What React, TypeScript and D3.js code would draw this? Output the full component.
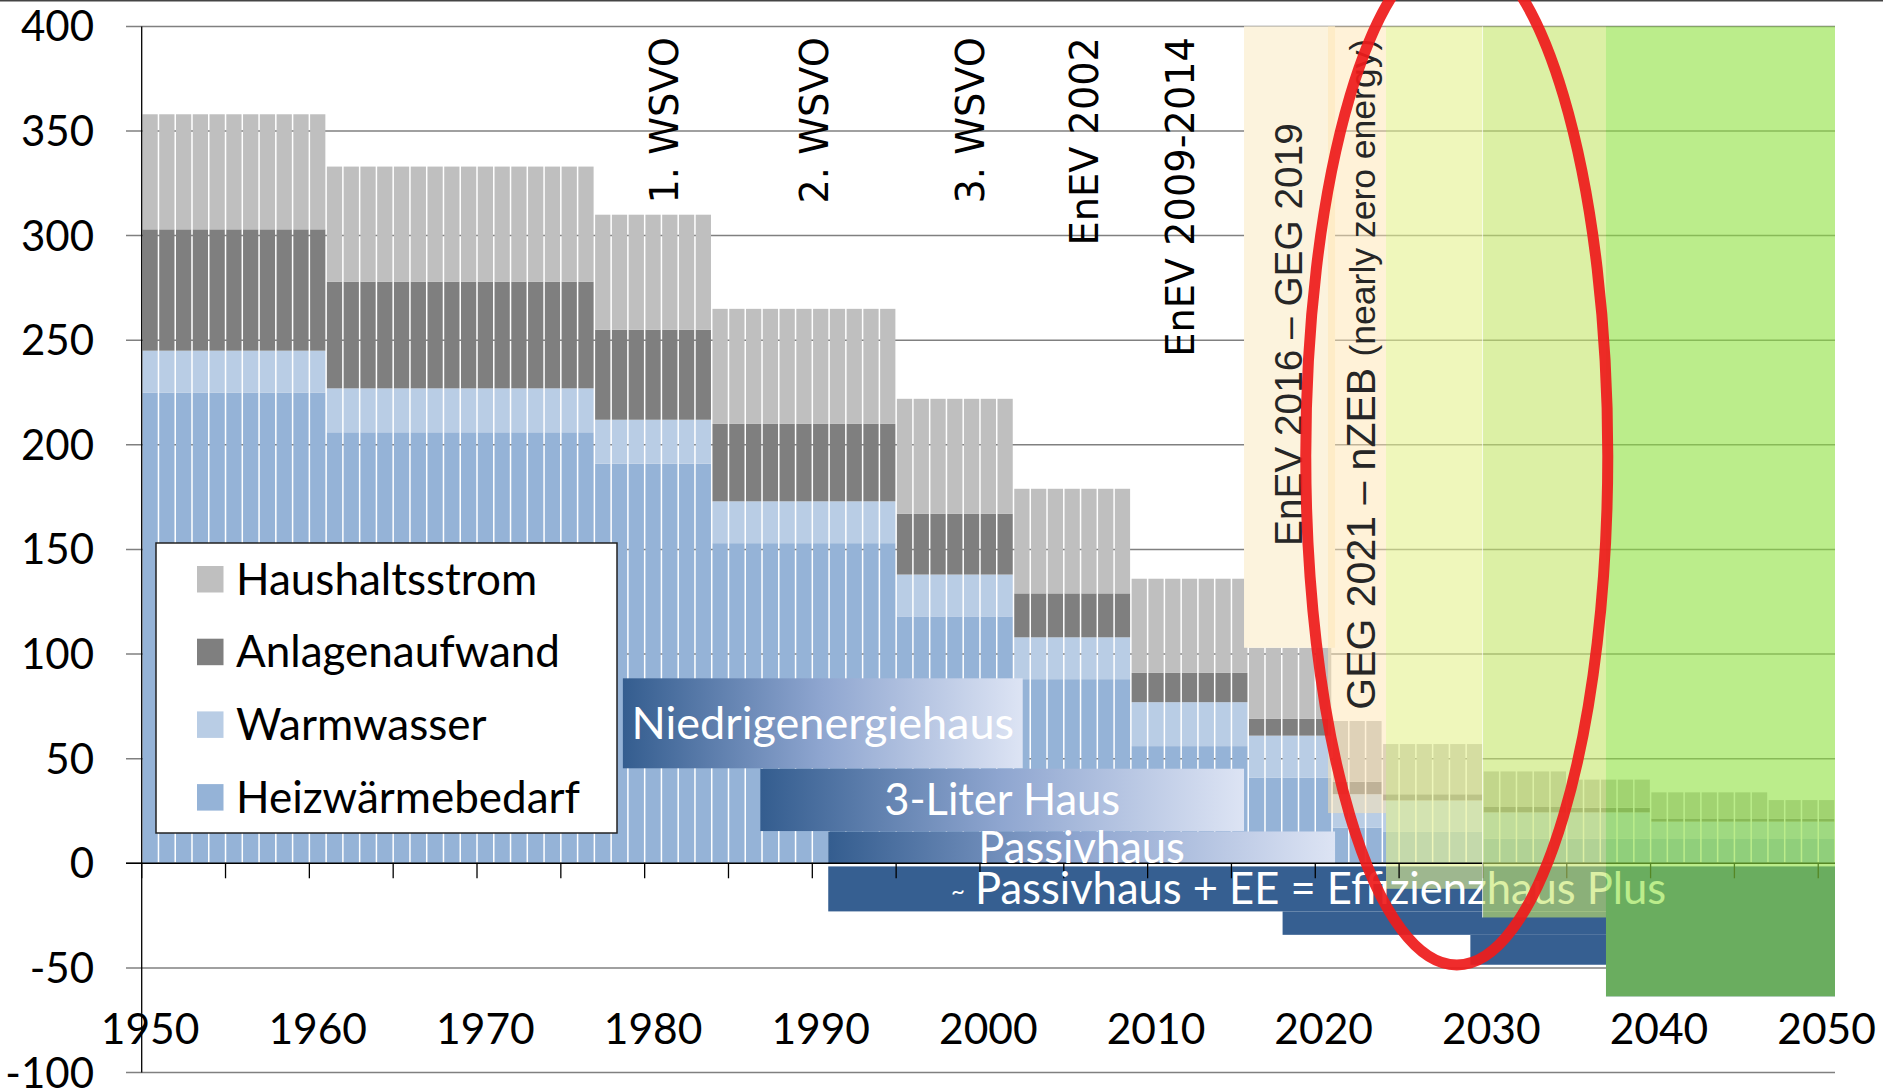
import React from 'react';
import * as d3 from 'd3';

const W = 1883;
const H = 1090;

// ---- data ----
const seriesKeys = ['Heizwärmebedarf', 'Warmwasser', 'Anlagenaufwand', 'Haushaltsstrom'];
const legendOrder = ['Haushaltsstrom', 'Anlagenaufwand', 'Warmwasser', 'Heizwärmebedarf'];
const seriesColors: Record<string, string> = {
  'Heizwärmebedarf': '#95b3d7',
  'Warmwasser': '#b9cde5',
  'Anlagenaufwand': '#7f7f7f',
  'Haushaltsstrom': '#bfbfbf',
};

const groupStart = [1950, 1961, 1977, 1984, 1995, 2002, 2009, 2016, 2021, 2024, 2030, 2035, 2040, 2047];
const groupEnd = [1960, 1976, 1983, 1994, 2001, 2008, 2015, 2020, 2023, 2029, 2034, 2039, 2046, 2050];
const heizwaerme = [225, 206, 191, 153, 118, 88, 56, 41, 17, 15, 11.7, 11.7, 11.6, 11.6];
const warmwasser = [20, 21, 21, 20, 20, 20, 21, 20, 16, 15, 12.6, 12.6, 8.3, 8.3];
const anlagen = [58, 51, 43, 37, 29, 21, 14, 8, 6, 3, 2.6, 2.2, 1.5, 1.3];
const strom = [55, 55, 55, 55, 55, 50, 45, 34, 29, 24, 17, 13.5, 12.5, 9];

const yTicks = [-100, -50, 0, 50, 100, 150, 200, 250, 300, 350, 400];
const xLabelYears = [1950, 1960, 1970, 1980, 1990, 2000, 2010, 2020, 2030, 2040, 2050];

// building standards (gradient banners)
const standardNames = ['Niedrigenergiehaus', '3-Liter Haus', 'Passivhaus'];
const standardFrom = [1978.2, 1986.4, 1990.45];
const standardTo = [2002.05, 2015.25, 2020.68];
const standardHigh = [88.4, 45.2, 15.2];
const standardLow = [45.4, 15.4, 0];

// Passivhaus + EE = Effizienzhaus Plus (stepped banner)
const plusFrom = [1990.45, 2017.55, 2028.75, 2036.84];
const plusTo = [2036.84, 2036.84, 2036.84, 2050.5];
const plusTop = [-1.5, -23, -34.2, -1.5];
const plusBottom = [-23, -34.2, -48.5, -63.6];

// shaded periods
const zoneFrom = [2015.25, 2020.26, 2023.72, 2029.48, 2036.84];
const zoneTo = [2020.68, 2023.72, 2029.48, 2036.84, 2050.5];
const zoneBottom = [103, 24, -12.2, -25.9, -63.6];

// regulation labels
const regulationNames = ['1. WSVO', '2. WSVO', '3. WSVO', 'EnEV 2002', 'EnEV 2009-2014'];
const regulationYears = [1981.49, 1990.44, 1999.74, 2006.54, 2012.27];

const years = d3.range(1950, 2051);
const rows = years.map((yr) => {
  const g = groupStart.findIndex((s, i) => yr >= s && yr <= groupEnd[i]);
  return {
    year: yr,
    'Heizwärmebedarf': heizwaerme[g],
    'Warmwasser': warmwasser[g],
    'Anlagenaufwand': anlagen[g],
    'Haushaltsstrom': strom[g],
  };
});

const CAL = 'Lato, "Open Sans", sans-serif';

export default function App() {
  const left = 141.7;
  const right = 1835;
  const x = d3.scaleBand<number>().domain(years).range([left, right]).paddingInner(0.09).paddingOuter(0.045);
  const xl = d3.scaleLinear().domain([1949.5, 2050.5]).range([left, right]);
  const y = d3.scaleLinear().domain([-100, 400]).range([1072.5, 26.4]);
  const stacked = d3.stack<any>().keys(seriesKeys)(rows as any);

  const zoneFill = ['#fcf3dd', '#ffe5b1', 'rgb(228,242,142)', 'rgb(197,230,105)', 'rgb(142,225,62)'];
  const zoneOpacity = [1, 0.5, 0.6, 0.6, 0.6];

  const zoneRect = (i: number) => (
    <rect
      key={'z' + i}
      x={xl(zoneFrom[i])}
      y={y(400)}
      width={xl(zoneTo[i]) - xl(zoneFrom[i])}
      height={y(zoneBottom[i]) - y(400)}
      fill={zoneFill[i]}
      fillOpacity={zoneOpacity[i]}
    />
  );

  const tickBounds = d3.range(0, 21).map((k) => 1949.5 + 5 * k);
  const bannerFont = [45, 43.5, 43.5];

  return (
    <svg width={W} height={H} style={{ position: 'absolute', left: 0, top: 0, background: '#fff' }}>
      <defs>
        <linearGradient id="bannerGrad" x1="0" x2="1" y1="0" y2="0">
          <stop offset="0" stopColor="#345d8f" />
          <stop offset="0.5" stopColor="#8fa6d0" />
          <stop offset="1" stopColor="#dde4f4" />
        </linearGradient>
      </defs>
      <rect x={0} y={0} width={W} height={H} fill="#fff" />
      <line x1={0} x2={W} y1={0.75} y2={0.75} stroke="#444" strokeWidth={1.5} />

      {/* gridlines */}
      {yTicks.map((t) => (
        <line key={'g' + t} x1={126} x2={right} y1={y(t)} y2={y(t)} stroke="#808080" strokeWidth={1.5} />
      ))}

      {/* bars */}
      {stacked.map((s) => (
        <g key={s.key} fill={seriesColors[s.key]}>
          {s.map((d: any) => (
            <rect
              key={d.data.year}
              x={x(d.data.year)}
              y={y(d[1])}
              width={x.bandwidth()}
              height={y(d[0]) - y(d[1])}
            />
          ))}
        </g>
      ))}

      {/* opaque beige zone */}
      {zoneRect(0)}

      {/* standard banners */}
      {standardNames.map((n, i) => (
        <rect
          key={'b' + i}
          x={xl(standardFrom[i])}
          y={y(standardHigh[i])}
          width={xl(standardTo[i]) - xl(standardFrom[i])}
          height={y(standardLow[i]) - y(standardHigh[i])}
          fill="url(#bannerGrad)"
        />
      ))}
      {plusFrom.map((f, i) => (
        <rect
          key={'p' + i}
          x={xl(f)}
          y={y(plusTop[i])}
          width={xl(plusTo[i]) - xl(f)}
          height={y(plusBottom[i]) - y(plusTop[i])}
          fill="#365f91"
        />
      ))}

      {/* semi transparent zones behind text */}
      {zoneRect(1)}
      {zoneRect(2)}

      {/* axes */}
      <line x1={left} x2={left} y1={y(400)} y2={y(-100)} stroke="#000" strokeWidth={1.3} />
      <line x1={126} x2={right} y1={y(0)} y2={y(0)} stroke="#000" strokeWidth={1.6} />
      {tickBounds.map((b) => (
        <line key={'t' + b} x1={xl(b)} x2={xl(b)} y1={y(0)} y2={y(0) + 15} stroke="#000" strokeWidth={1.3} />
      ))}
      {yTicks.map((t) => (
        <text key={'yl' + t} x={94} y={y(t) + 15} textAnchor="end" fontFamily={CAL} fontSize={42} fill="#000">
          {t}
        </text>
      ))}
      {xLabelYears.map((yr) => (
        <text key={'xl' + yr} x={xl(yr)} y={1044} textAnchor="middle" fontFamily={CAL} fontSize={42.5} fill="#000">
          {yr}
        </text>
      ))}

      {/* banner texts */}
      {standardNames.map((n, i) => (
        <text
          key={'bt' + i}
          x={(xl(standardFrom[i]) + xl(standardTo[i])) / 2}
          y={(y(standardHigh[i]) + y(standardLow[i])) / 2 + 15.5}
          textAnchor="middle"
          fontFamily={CAL}
          fontSize={bannerFont[i]}
          fill="#fff"
        >
          {n}
        </text>
      ))}
      <text x={951} y={899} fontFamily={CAL} fontSize={24} fill="#fff">~</text>
      <text x={975} y={904} fontFamily={CAL} fontSize={43.5} fill="#fff">
        Passivhaus + EE = Effizienzhaus Plus
      </text>

      {/* regulation labels */}
      {regulationNames.map((n, i) => (
        <text
          key={'r' + i}
          transform={`translate(${xl(regulationYears[i])},37) rotate(-90)`}
          textAnchor="end"
          fontFamily="DejaVu Sans"
          fontSize={38.3}
          fill="#000"
        >
          {n}
        </text>
      ))}
      <text
        transform={`translate(${xl(2018.69)},546) rotate(-90)`}
        fontFamily="Liberation Sans"
        fontSize={38.8}
        fill="#262626"
      >
        EnEV 2016 – GEG 2019
      </text>
      <text
        transform={`translate(${xl(2023.06)},709.7) rotate(-90)`}
        fontFamily="Liberation Sans"
        fill="#262626"
      >
        <tspan fontSize={41}>GEG 2021 – nZEB </tspan>
        <tspan fontSize={35.5}>(nearly zero energy)</tspan>
      </text>

      {/* green zones above text */}
      {zoneRect(3)}
      {zoneRect(4)}
      <line x1={xl(zoneFrom[3])} x2={xl(zoneFrom[3])} y1={y(400)} y2={y(zoneBottom[3])} stroke="#fff" strokeOpacity={0.7} strokeWidth={1} />

      {/* legend */}
      <rect x={156} y={543} width={461} height={290} fill="#fff" stroke="#222" strokeWidth={1.5} />
      {legendOrder.map((k, i) => (
        <g key={'lg' + k}>
          <rect x={197} y={566 + i * 72.7} width={26.5} height={26.5} fill={seriesColors[k]} />
          <text x={236} y={579 + i * 72.7 + 15.5} fontFamily={CAL} fontSize={44} fill="#000">
            {k}
          </text>
        </g>
      ))}

      {/* red ellipse */}
      <ellipse
        cx={xl(2027.94)}
        cy={y(194.7)}
        rx={151}
        ry={509}
        fill="none"
        stroke="#ee1c1c"
        strokeOpacity={0.93}
        strokeWidth={11}
      />
    </svg>
  );
}
